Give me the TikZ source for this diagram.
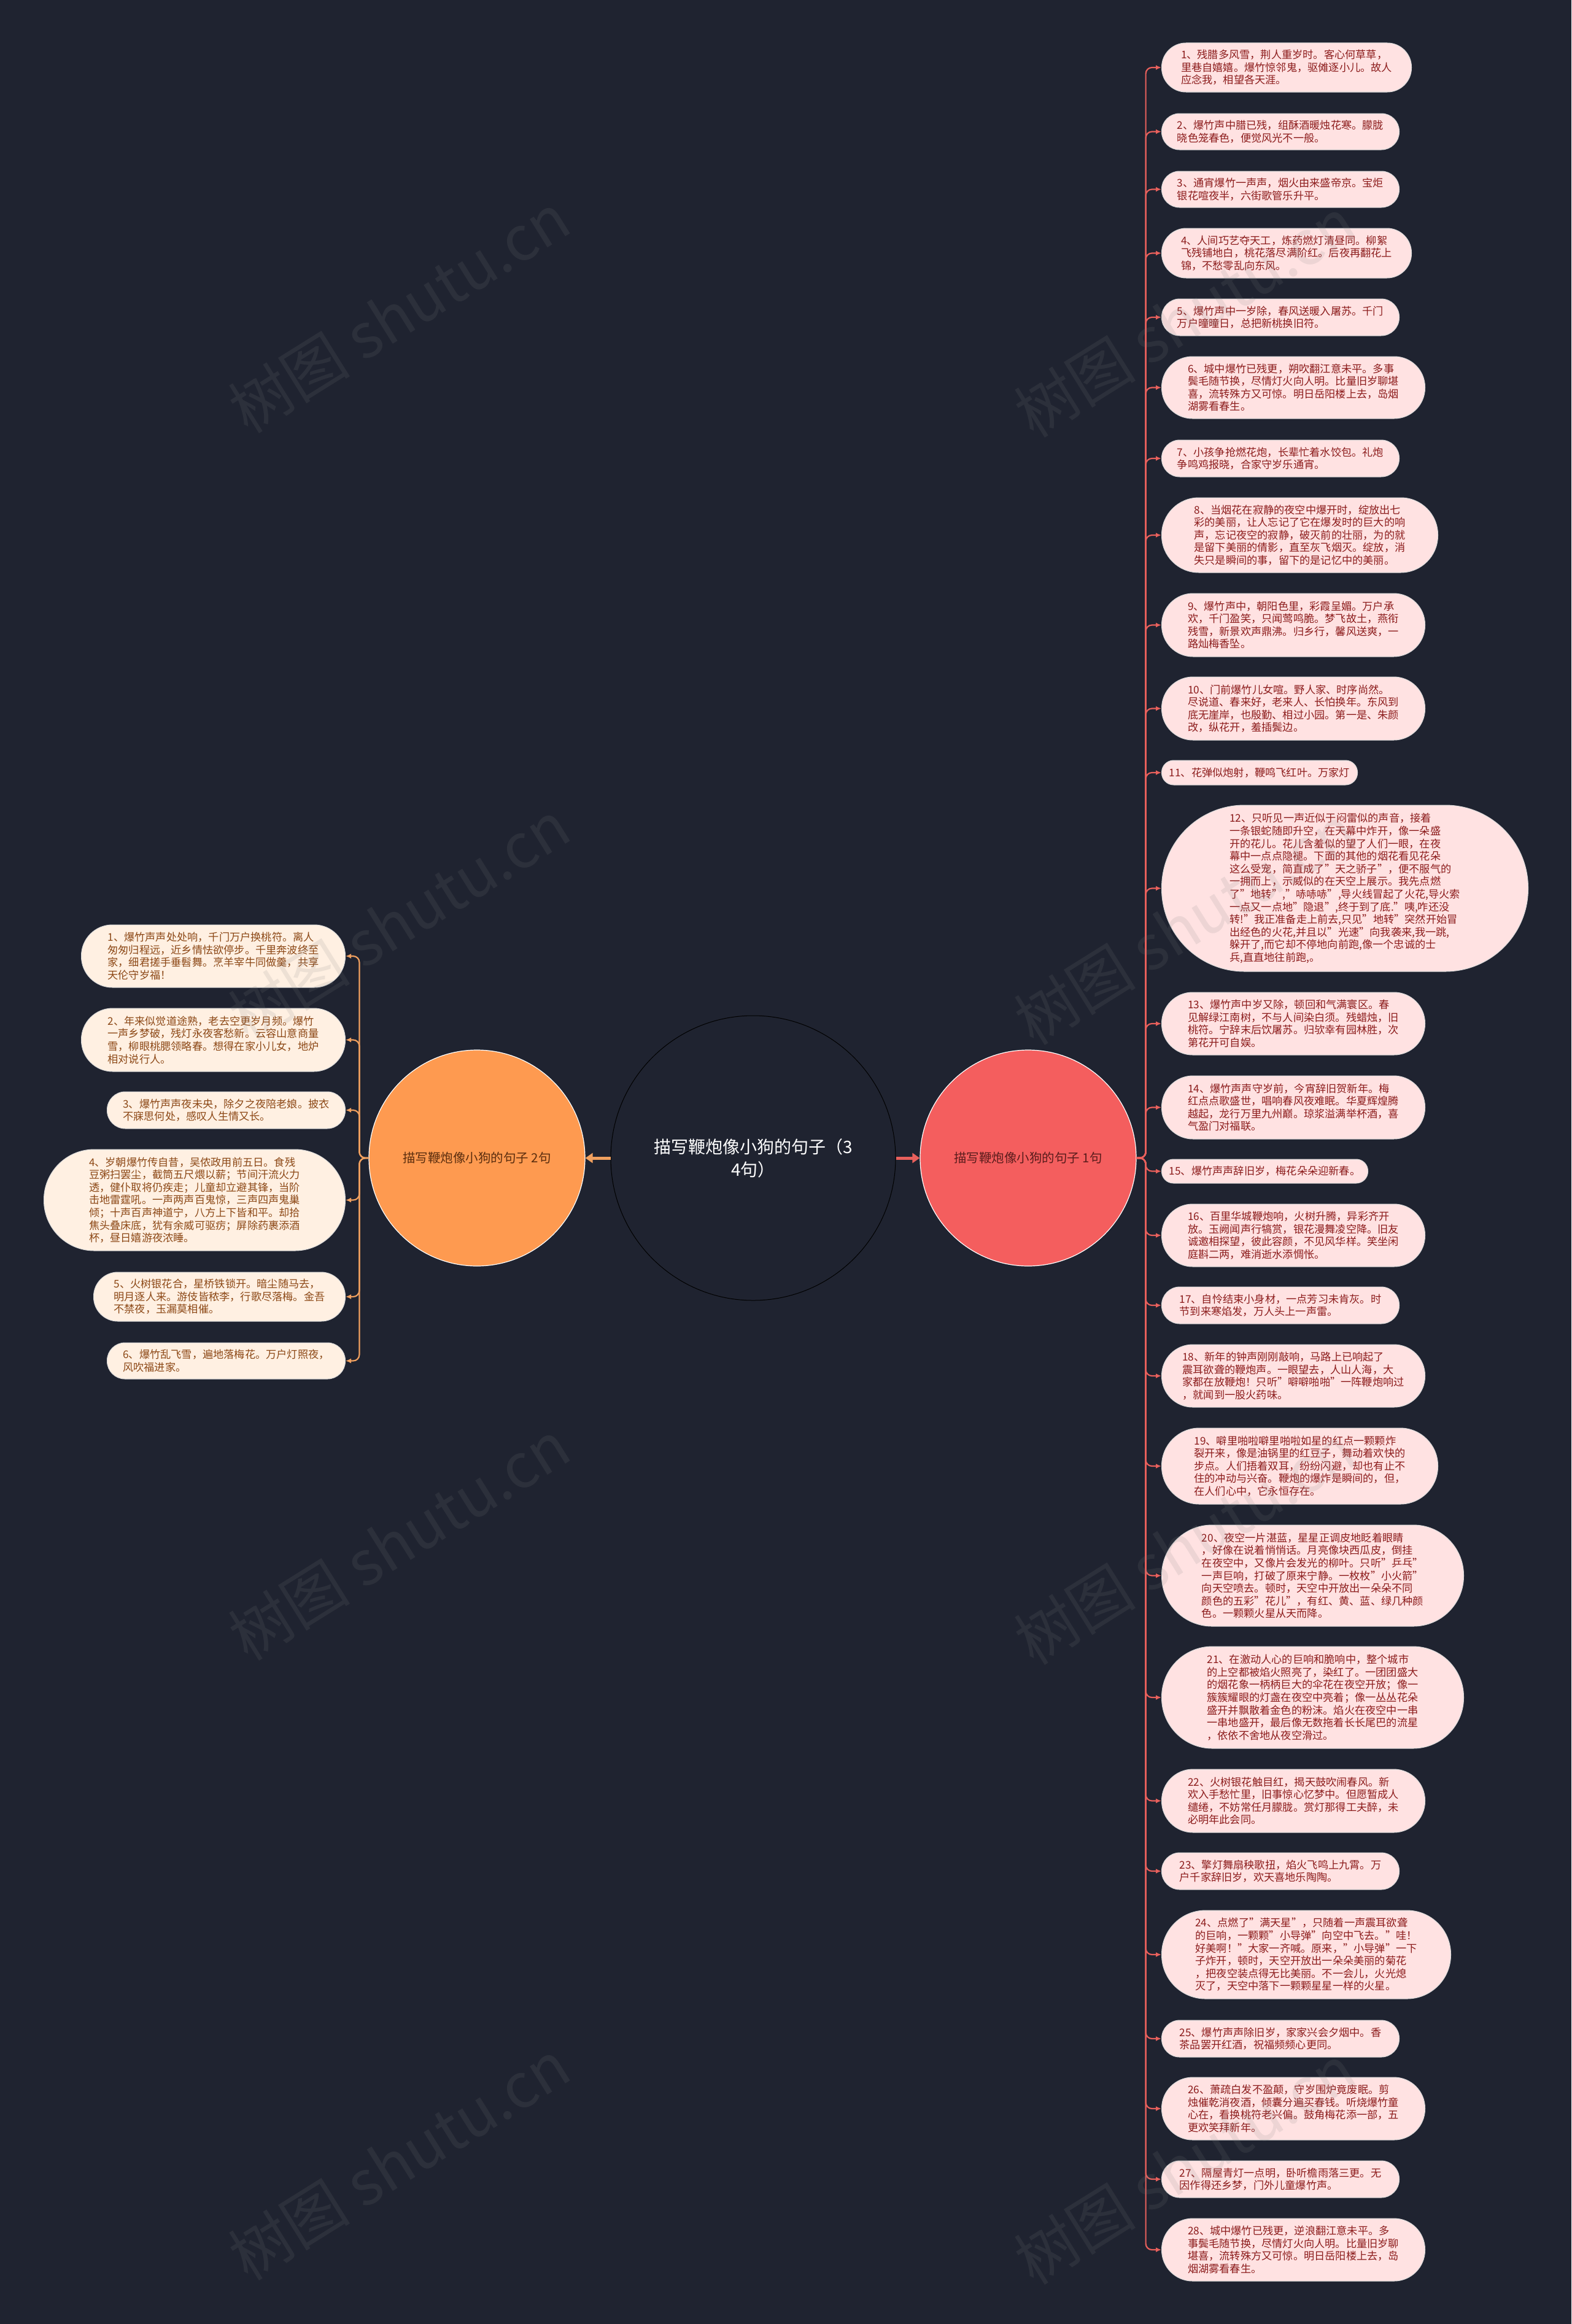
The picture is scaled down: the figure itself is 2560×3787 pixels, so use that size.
\documentclass[tikz,border=0pt]{standalone}
\usepackage{fontspec}
\setmainfont{Noto Sans CJK SC}
\usetikzlibrary{arrows.meta}
\definecolor{bg}{RGB}{31,35,48}
\definecolor{rmain}{RGB}{244,94,94}
\definecolor{lmain}{RGB}{254,154,80}
\definecolor{rfill}{RGB}{255,226,226}
\definecolor{lfill}{RGB}{255,240,226}
\definecolor{rtext}{RGB}{140,28,28}
\definecolor{ltext}{RGB}{140,72,22}
\definecolor{rline}{RGB}{232,96,92}
\definecolor{lline}{RGB}{240,160,95}
\definecolor{mtextr}{RGB}{90,28,28}
\definecolor{mtextl}{RGB}{90,45,14}
\tikzset{
  leafbase/.style={draw=white!85!black, line width=1pt, inner sep=3pt, align=left,
    font=\fontsize{17.2}{20.6}\selectfont},
  rleaf/.style 2 args={leafbase, fill=rfill, text=rtext, anchor=west,
    minimum width=#1, minimum height=#2, rounded corners=#2/2-0.5},
  lleaf/.style 2 args={leafbase, fill=lfill, text=ltext, anchor=east,
    minimum width=#1, minimum height=#2, rounded corners=#2/2-0.5},
  rconn/.style={draw=rline, line width=2.2pt, rounded corners=10pt, -{Latex[length=9pt,width=8pt]}},
  lconn/.style={draw=lline, line width=2.2pt, rounded corners=10pt, -{Latex[length=9pt,width=8pt]}},
  mainarrow/.style={line width=5pt, -{Triangle[length=12pt,width=16pt]}},
  wmark/.style={text=gray, opacity=0.14, rotate=32, font=\fontsize{100}{100}\selectfont}
}
\begin{document}
\begin{tikzpicture}[x=1pt,y=-1pt]
\fill[bg] (0,0) rectangle (2560,3787);
\useasboundingbox (0,0) rectangle (2560,3787);

% central and main nodes
\node[circle, draw=black, line width=1pt, fill=bg, minimum size=464pt, inner sep=0pt, text=white,
  align=center, font=\fontsize{28}{37}\selectfont] (c) at (1227,1887) {描写鞭炮像小狗的句子（3\\4句）};
\node[circle, draw=white, line width=1.2pt, fill=rmain, minimum size=352pt, inner sep=0pt, text=mtextr,
  font=\fontsize{20.5}{24}\selectfont] (R) at (1675,1887) {描写鞭炮像小狗的句子 1句};
\node[circle, draw=white, line width=1.2pt, fill=lmain, minimum size=352pt, inner sep=0pt, text=mtextl,
  font=\fontsize{20.5}{24}\selectfont] (L) at (777,1887) {描写鞭炮像小狗的句子 2句};
\draw[mainarrow, rline] (c.east) -- (R.west);
\draw[mainarrow, lline] (c.west) -- (L.east);

% right leaves
\node[rleaf={407}{80}] (r1) at (1892,110) {1、残腊多风雪，荆人重岁时。客心何草草，\\里巷自嬉嬉。爆竹惊邻鬼，驱傩逐小儿。故人\\应念我，相望各天涯。};
\node[rleaf={387}{59}] (r2) at (1892,214.5) {2、爆竹声中腊已残，组酥酒暖烛花寒。朦胧\\晓色笼春色，便觉风光不一般。};
\node[rleaf={387}{59}] (r3) at (1892,308.5) {3、通宵爆竹一声声，烟火由来盛帝京。宝炬\\银花喧夜半，六街歌管乐升平。};
\node[rleaf={407}{81}] (r4) at (1892,412.5) {4、人间巧艺夺天工，炼药燃灯清昼同。柳絮\\飞残铺地白，桃花落尽满阶红。后夜再翻花上\\锦，不愁零乱向东风。};
\node[rleaf={387}{60}] (r5) at (1892,517) {5、爆竹声中一岁除，春风送暖入屠苏。千门\\万户曈曈日，总把新桃换旧符。};
\node[rleaf={429}{101}] (r6) at (1892,631.5) {6、城中爆竹已残更，朔吹翻江意未平。多事\\鬓毛随节换，尽情灯火向人明。比量旧岁聊堪\\喜，流转殊方又可惊。明日岳阳楼上去，岛烟\\湖雾看春生。};
\node[rleaf={387}{60}] (r7) at (1892,747) {7、小孩争抢燃花炮，长辈忙着水饺包。礼炮\\争鸣鸡报晓，合家守岁乐通宵。};
\node[rleaf={450}{122}] (r8) at (1892,872) {8、当烟花在寂静的夜空中爆开时，绽放出七\\彩的美丽，让人忘记了它在爆发时的巨大的响\\声，忘记夜空的寂静，破灭前的壮丽，为的就\\是留下美丽的倩影，直至灰飞烟灭。绽放，消\\失只是瞬间的事，留下的是记忆中的美丽。};
\node[rleaf={429}{103}] (r9) at (1892,1018.5) {9、爆竹声中，朝阳色里，彩霞呈媚。万户承\\欢，千门盈笑，只闻莺鸣脆。梦飞故土，燕衔\\残雪，新景欢声鼎沸。归乡行，馨风送爽，一\\路灿梅香坠。};
\node[rleaf={429}{103}] (r10) at (1892,1154.5) {10、门前爆竹儿女喧。野人家、时序尚然。\\尽说道、春来好，老来人、长怕换年。东风到\\底无崖岸，也殷勤、相过小园。第一是、朱颜\\改，纵花开，羞插鬓边。};
\node[rleaf={319}{40}] (r11) at (1892,1259) {11、花弹似炮射，鞭鸣飞红叶。万家灯};
\node[rleaf={597}{271}] (r12) at (1892,1447.5) {12、只听见一声近似于闷雷似的声音，接着\\一条银蛇随即升空，在天幕中炸开，像一朵盛\\开的花儿。花儿含羞似的望了人们一眼，在夜\\幕中一点点隐褪。下面的其他的烟花看见花朵\\这么受宠，简直成了"天之骄子"，便不服气的\\一拥而上，示威似的在天空上展示。我先点燃\\了"地转","哧哧哧",导火线冒起了火花,导火索\\一点又一点地"隐退",终于到了底."咦,咋还没\\转!"我正准备走上前去,只见"地转"突然开始冒\\出经色的火花,并且以"光速"向我袭来,我一跳,\\躲开了,而它却不停地向前跑,像一个忠诚的士\\兵,直直地往前跑,。};
\node[rleaf={429}{102}] (r13) at (1892,1668) {13、爆竹声中岁又除，顿回和气满寰区。春\\见解绿江南树，不与人间染白须。残蜡烛，旧\\桃符。宁辞末后饮屠苏。归欤幸有园林胜，次\\第花开可自娱。};
\node[rleaf={429}{103}] (r14) at (1892,1804.5) {14、爆竹声声守岁前，今宵辞旧贺新年。梅\\红点点歌盛世，唱响春风夜难眠。华夏辉煌腾\\越起，龙行万里九州巅。琼浆溢满举杯酒，喜\\气盈门对福联。};
\node[rleaf={336}{39}] (r15) at (1892,1908.5) {15、爆竹声声辞旧岁，梅花朵朵迎新春。};
\node[rleaf={429}{102}] (r16) at (1892,2013) {16、百里华城鞭炮响，火树升腾，异彩齐开\\放。玉阙闻声行犒赏，银花漫舞凌空降。旧友\\诚邀相探望，彼此容颜，不见风华样。笑坐闲\\庭斟二两，难消逝水添惆怅。};
\node[rleaf={387}{60}] (r17) at (1892,2127) {17、自怜结束小身材，一点芳习未肯灰。时\\节到来寒焰发，万人头上一声雷。};
\node[rleaf={429}{102}] (r18) at (1892,2242) {18、新年的钟声刚刚敲响，马路上已响起了\\震耳欲聋的鞭炮声。一眼望去，人山人海，大\\家都在放鞭炮！只听"噼噼啪啪"一阵鞭炮响过\\，就闻到一股火药味。};
\node[rleaf={450}{124}] (r19) at (1892,2389) {19、噼里啪啦噼里啪啦如星的红点一颗颗炸\\裂开来，像是油锅里的红豆子，舞动着欢快的\\步点。人们捂着双耳，纷纷闪避，却也有止不\\住的冲动与兴奋。鞭炮的爆炸是瞬间的，但，\\在人们心中，它永恒存在。};
\node[rleaf={492}{165}] (r20) at (1892,2567.5) {20、夜空一片湛蓝，星星正调皮地眨着眼睛\\，好像在说着悄悄话。月亮像块西瓜皮，倒挂\\在夜空中，又像片会发光的柳叶。只听"乒乓"\\一声巨响，打破了原来宁静。一枚枚"小火箭"\\向天空喷去。顿时，天空中开放出一朵朵不同\\颜色的五彩"花儿"，有红、黄、蓝、绿几种颜\\色。一颗颗火星从天而降。};
\node[rleaf={492}{166}] (r21) at (1892,2766) {21、在激动人心的巨响和脆响中，整个城市\\的上空都被焰火照亮了，染红了。一团团盛大\\的烟花象一柄柄巨大的伞花在夜空开放；像一\\簇簇耀眼的灯盏在夜空中亮着；像一丛丛花朵\\盛开并飘散着金色的粉沫。焰火在夜空中一串\\一串地盛开，最后像无数拖着长长尾巴的流星\\，依依不舍地从夜空滑过。};
\node[rleaf={429}{103}] (r22) at (1892,2934.5) {22、火树银花触目红，揭天鼓吹闹春风。新\\欢入手愁忙里，旧事惊心忆梦中。但愿暂成人\\缱绻，不妨常任月朦胧。赏灯那得工夫醉，未\\必明年此会同。};
\node[rleaf={387}{60}] (r23) at (1892,3049) {23、擎灯舞扇秧歌扭，焰火飞鸣上九霄。万\\户千家辞旧岁，欢天喜地乐陶陶。};
\node[rleaf={471}{144}] (r24) at (1892,3185) {24、点燃了"满天星"，只随着一声震耳欲聋\\的巨响，一颗颗"小导弹"向空中飞去。"哇！\\好美啊！"大家一齐喊。原来，"小导弹"一下\\子炸开，顿时，天空开放出一朵朵美丽的菊花\\，把夜空装点得无比美丽。不一会儿，火光熄\\灭了，天空中落下一颗颗星星一样的火星。};
\node[rleaf={387}{60}] (r25) at (1892,3322) {25、爆竹声声除旧岁，家家兴会夕烟中。香\\茶品罢开红酒，祝福频频心更同。};
\node[rleaf={429}{102}] (r26) at (1892,3436) {26、萧疏白发不盈颠，守岁围炉竟废眠。剪\\烛催乾消夜酒，倾囊分遍买春钱。听烧爆竹童\\心在，看换桃符老兴偏。鼓角梅花添一部，五\\更欢笑拜新年。};
\node[rleaf={387}{60}] (r27) at (1892,3551) {27、隔屋青灯一点明，卧听檐雨落三更。无\\因作得还乡梦，门外儿童爆竹声。};
\node[rleaf={429}{102}] (r28) at (1892,3666) {28、城中爆竹已残更，逆浪翻江意未平。多\\事鬓毛随节换，尽情灯火向人明。比量旧岁聊\\堪喜，流转殊方又可惊。明日岳阳楼上去，岛\\烟湖雾看春生。};

% left leaves
\node[lleaf={430}{102}] (l1) at (563,1558) {1、爆竹声声处处响，千门万户换桃符。离人\\匆匆归程远，近乡情怯欲停步。千里奔波终至\\家，细君搓手垂髫舞。烹羊宰牛同做羹，共享\\天伦守岁福！};
\node[lleaf={430}{103}] (l2) at (563,1694.5) {2、年来似觉道途熟，老去空更岁月频。爆竹\\一声乡梦破，残灯永夜客愁新。云容山意商量\\雪，柳眼桃腮领略春。想得在家小儿女，地炉\\相对说行人。};
\node[lleaf={388}{60}] (l3) at (563,1809) {3、爆竹声声夜未央，除夕之夜陪老娘。披衣\\不寐思何处，感叹人生情又长。};
\node[lleaf={491}{165}] (l4) at (563,1955.5) {4、岁朝爆竹传自昔，吴侬政用前五日。食残\\豆粥扫罢尘，截筒五尺煨以薪；节间汗流火力\\透，健仆取将仍疾走；儿童却立避其锋，当阶\\击地雷霆吼。一声两声百鬼惊，三声四声鬼巢\\倾；十声百声神道宁，八方上下皆和平。却拾\\焦头叠床底，犹有余威可驱疠；屏除药裹添酒\\杯，昼日嬉游夜浓睡。};
\node[lleaf={410}{80}] (l5) at (563,2113) {5、火树银花合，星桥铁锁开。暗尘随马去，\\明月逐人来。游伎皆秾李，行歌尽落梅。金吾\\不禁夜，玉漏莫相催。};
\node[lleaf={388}{59}] (l6) at (563,2217.5) {6、爆竹乱飞雪，遍地落梅花。万户灯照夜，\\风吹福进家。};

% connectors
\foreach \i in {1,...,28} {
  \draw[rconn] (R.east) -- ++(15,0) |- (r\i.west);
}
\foreach \i in {1,...,6} {
  \draw[lconn] (L.west) -- ++(-15,0) |- (l\i.east);
}

% watermarks
\foreach \wx/\wy in {650/510, 1930/517, 650/1500, 1930/1507, 650/2510, 1930/2517, 650/3520, 1930/3527} {
  \node[wmark] at (\wx,\wy) {树图 shutu.cn};
}
\end{tikzpicture}
\end{document}
